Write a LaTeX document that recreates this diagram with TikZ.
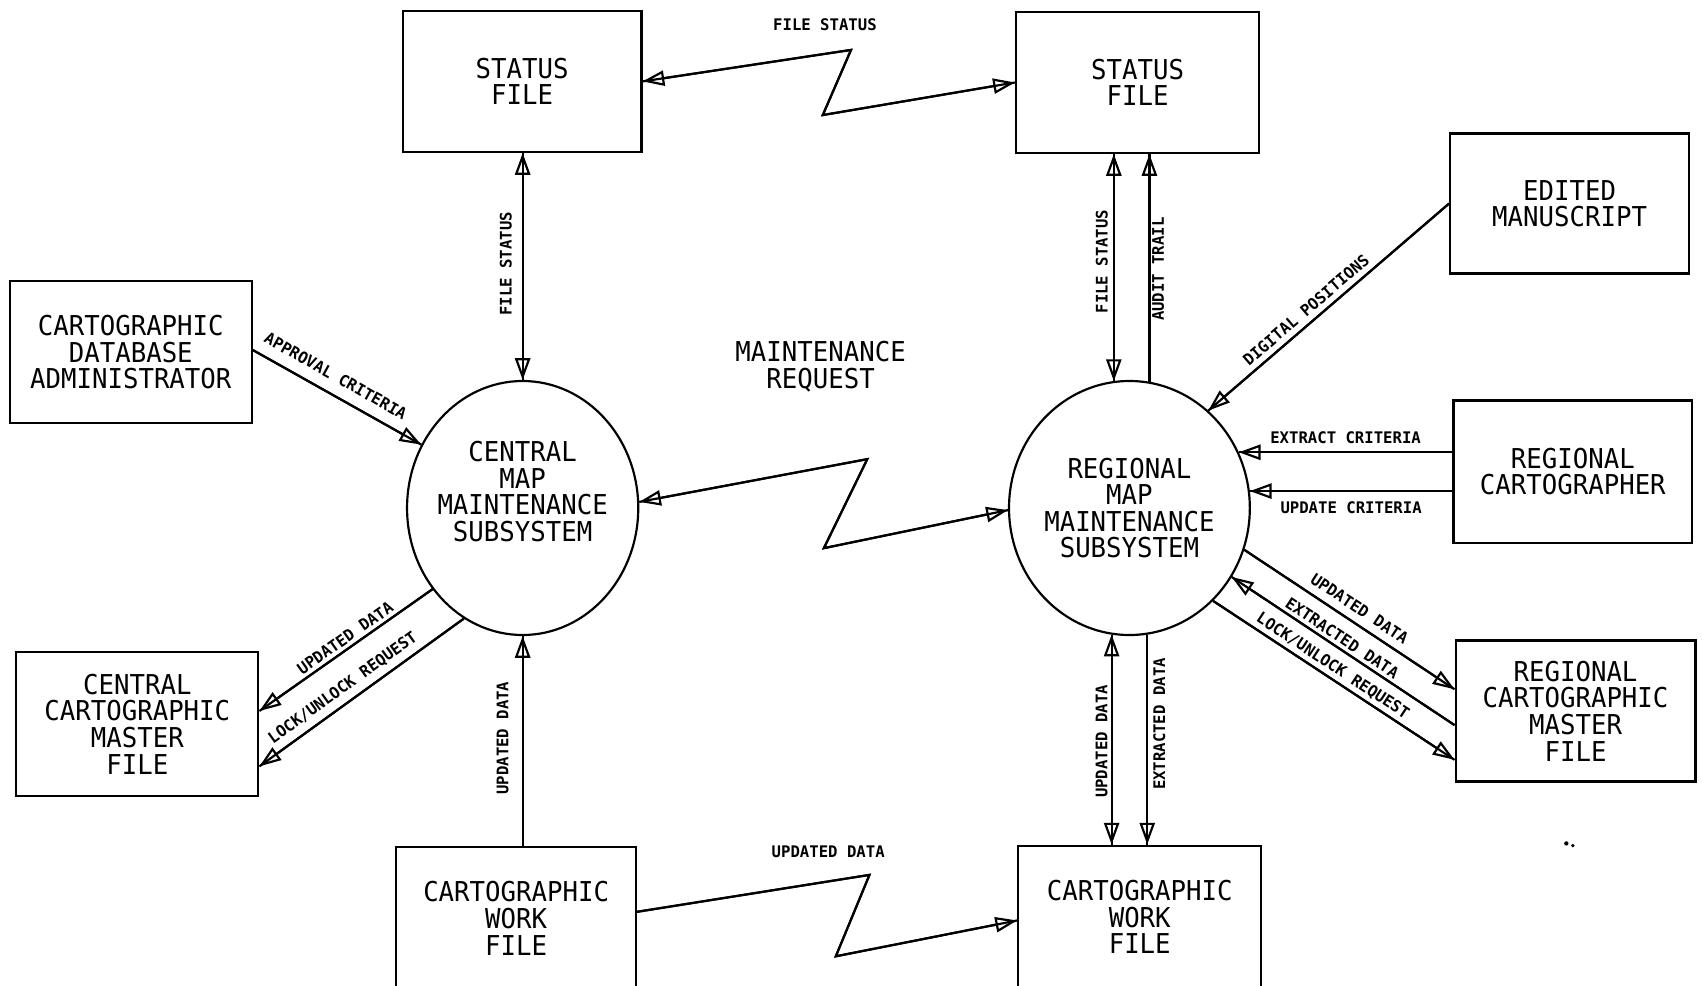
\documentclass[tikz,border=0pt]{standalone}
\usepackage{fontspec}
\usetikzlibrary{arrows.meta,shapes.geometric,calc}
\newfontfamily\plotfont[FakeStretch=0.94]{DejaVu Sans Mono}
\newfontfamily\lblfont[FakeStretch=0.98]{DejaVu Sans Mono}
\begin{document}
\begin{tikzpicture}[x=1pt,y=-1pt,
  bigtxt/.style={font=\plotfont\fontsize{25.2}{24.5}\selectfont, align=center},
  box/.style={draw, line width=2pt, inner sep=0pt, bigtxt},
  bubble/.style={draw, ellipse, line width=2pt, inner sep=0pt, bigtxt},
  lbl/.style={font=\lblfont\bfseries\fontsize{14.7}{16}\selectfont, inner sep=0pt},
  flow/.style={line width=2pt, postaction={draw, line width=2pt, arrows=-}},
  >={Triangle[open, length=20pt, width=14pt]}
]
\useasboundingbox (0,0) rectangle (1568,908);

% boxes
\node[box, minimum width=220pt, minimum height=130pt] (sfl) at (481,75) {STATUS\\FILE};
\node[box, minimum width=224pt, minimum height=130pt] (sfr) at (1048,76) {STATUS\\FILE};
\node[box, minimum width=223pt, minimum height=131pt] (cda) at (120.5,324.5) {CARTOGRAPHIC\\DATABASE\\ADMINISTRATOR};
\node[box, minimum width=220pt, minimum height=129pt] (em) at (1446,187.5) {EDITED\\MANUSCRIPT};
\node[box, minimum width=220pt, minimum height=131pt] (rc) at (1449,434.5) {REGIONAL\\CARTOGRAPHER};
\node[box, minimum width=221pt, minimum height=130pt] (rcmf) at (1451.5,655) {REGIONAL\\CARTOGRAPHIC\\MASTER\\FILE};
\node[box, minimum width=223pt, minimum height=132pt] (ccmf) at (126.5,667) {CENTRAL\\CARTOGRAPHIC\\MASTER\\FILE};
\node[box, minimum width=221pt, minimum height=132pt] (cwfl) at (475.5,846) {CARTOGRAPHIC\\WORK\\FILE};
\node[box, minimum width=224pt, minimum height=132pt] (cwfr) at (1050,845) {CARTOGRAPHIC\\WORK\\FILE};

% processes
\node[bubble, minimum width=213pt, minimum height=234pt] (cen) at (481.5,468) {};
\node[bigtxt, inner sep=0pt] (centxt) at (481.5,453) {CENTRAL\\MAP\\MAINTENANCE\\SUBSYSTEM};
\node[bubble, minimum width=219pt, minimum height=234pt] (reg) at (1040.5,468) {REGIONAL\\MAP\\MAINTENANCE\\SUBSYSTEM};

% free text
\node[bigtxt, inner sep=0pt] (mreq) at (756,338) {MAINTENANCE\\REQUEST};

% zigzag connectors
\coordinate (z1a) at (784,46);
\coordinate (z1b) at (758,106);
\draw[flow,<->] (sfl.east) -- (z1a) -- (z1b) -- (sfr.west);
\node[lbl] (lfs0) at (760,23) {FILE STATUS};

\coordinate (z2a) at (799,423);
\coordinate (z2b) at (759,505);
\draw[flow,<->] (cen.3) -- (z2a) -- (z2b) -- (reg.181);

\coordinate (z3a) at (801,806);
\coordinate (z3b) at (770,881);
\draw[flow,->] ($(cwfl.east)+(0,-6)$) -- (z3a) -- (z3b) -- ($(cwfr.west)+(0,3)$);
\node[lbl] (lud0) at (763,785) {UPDATED DATA};

% central verticals
\draw[flow,<->] (sfl.south -| cen.north) -- (cen.north);
\node[lbl, rotate=90] (lfs1) at (466,243) {FILE STATUS};
\draw[flow,->] (cwfl.north -| cen.south) -- (cen.south);
\node[lbl, rotate=90] (lud1) at (463,680) {UPDATED DATA};

% regional verticals
\draw[flow,<->] (reg.97.1 |- sfr.south) -- (reg.97.1);
\node[lbl, rotate=90] (lfs2) at (1015,241) {FILE STATUS};
\draw[flow,->] (reg.81.9) -- (reg.81.9 |- sfr.south);
\node[lbl, rotate=90] (lat) at (1067,248) {AUDIT TRAIL};
\draw[flow,<->] (reg.262.9) -- (reg.262.9 |- cwfr.north);
\node[lbl, rotate=90] (lud2) at (1015,683) {UPDATED DATA};
\draw[flow,->] (reg.278.1) -- (reg.278.1 |- cwfr.north);
\node[lbl, rotate=90] (led) at (1068,667) {EXTRACTED DATA};

% administrator
\draw[flow,->] ($(cda.east)+(0,-2)$) -- (cen.148)
  node[lbl, sloped, pos=0.44, above=10pt] (lac) {APPROVAL CRITERIA};

% central master file
\draw[flow,->] (cen.222) -- ($(ccmf.east)+(0,-12)$)
  node[lbl, sloped, pos=0.47, above=3pt] (lud3) {UPDATED DATA};
\draw[flow,->] (cen.242) -- ($(ccmf.east)+(0,39)$)
  node[lbl, sloped, pos=0.55, above=6pt] (llr1) {LOCK/UNLOCK REQUEST};

% edited manuscript
\draw[flow,->] (em.west) -- (reg.51)
  node[lbl, sloped, pos=0.56, above=5pt] (ldp) {DIGITAL POSITIONS};

% regional cartographer
\draw[flow,->] (reg.27.4 -| rc.west) -- (reg.27.4)
  node[lbl, midway, above=7pt] (lec) {EXTRACT CRITERIA};
\draw[flow,->] (reg.8.65 -| rc.west) -- (reg.8.65)
  node[lbl, midway, below=9pt] (luc) {UPDATE CRITERIA};

% regional master file
\draw[flow,->] (reg.340.4) -- ($(rcmf.west)+(0,-20)$)
  node[lbl, sloped, pos=0.51, above=7pt] (lud4) {UPDATED DATA};
\draw[flow,->] ($(rcmf.west)+(0,13)$) -- (reg.326.3)
  node[lbl, sloped, pos=0.53, above=3pt] (led2) {EXTRACTED DATA};
\draw[flow,->] (reg.312.9) -- ($(rcmf.west)+(0,45)$)
  node[lbl, sloped, pos=0.47, above=3pt] (llr2) {LOCK/UNLOCK REQUEST};

% specks
\fill (1443,777) circle (2);
\fill (1449,779) circle (1.7);
\end{tikzpicture}
\end{document}
